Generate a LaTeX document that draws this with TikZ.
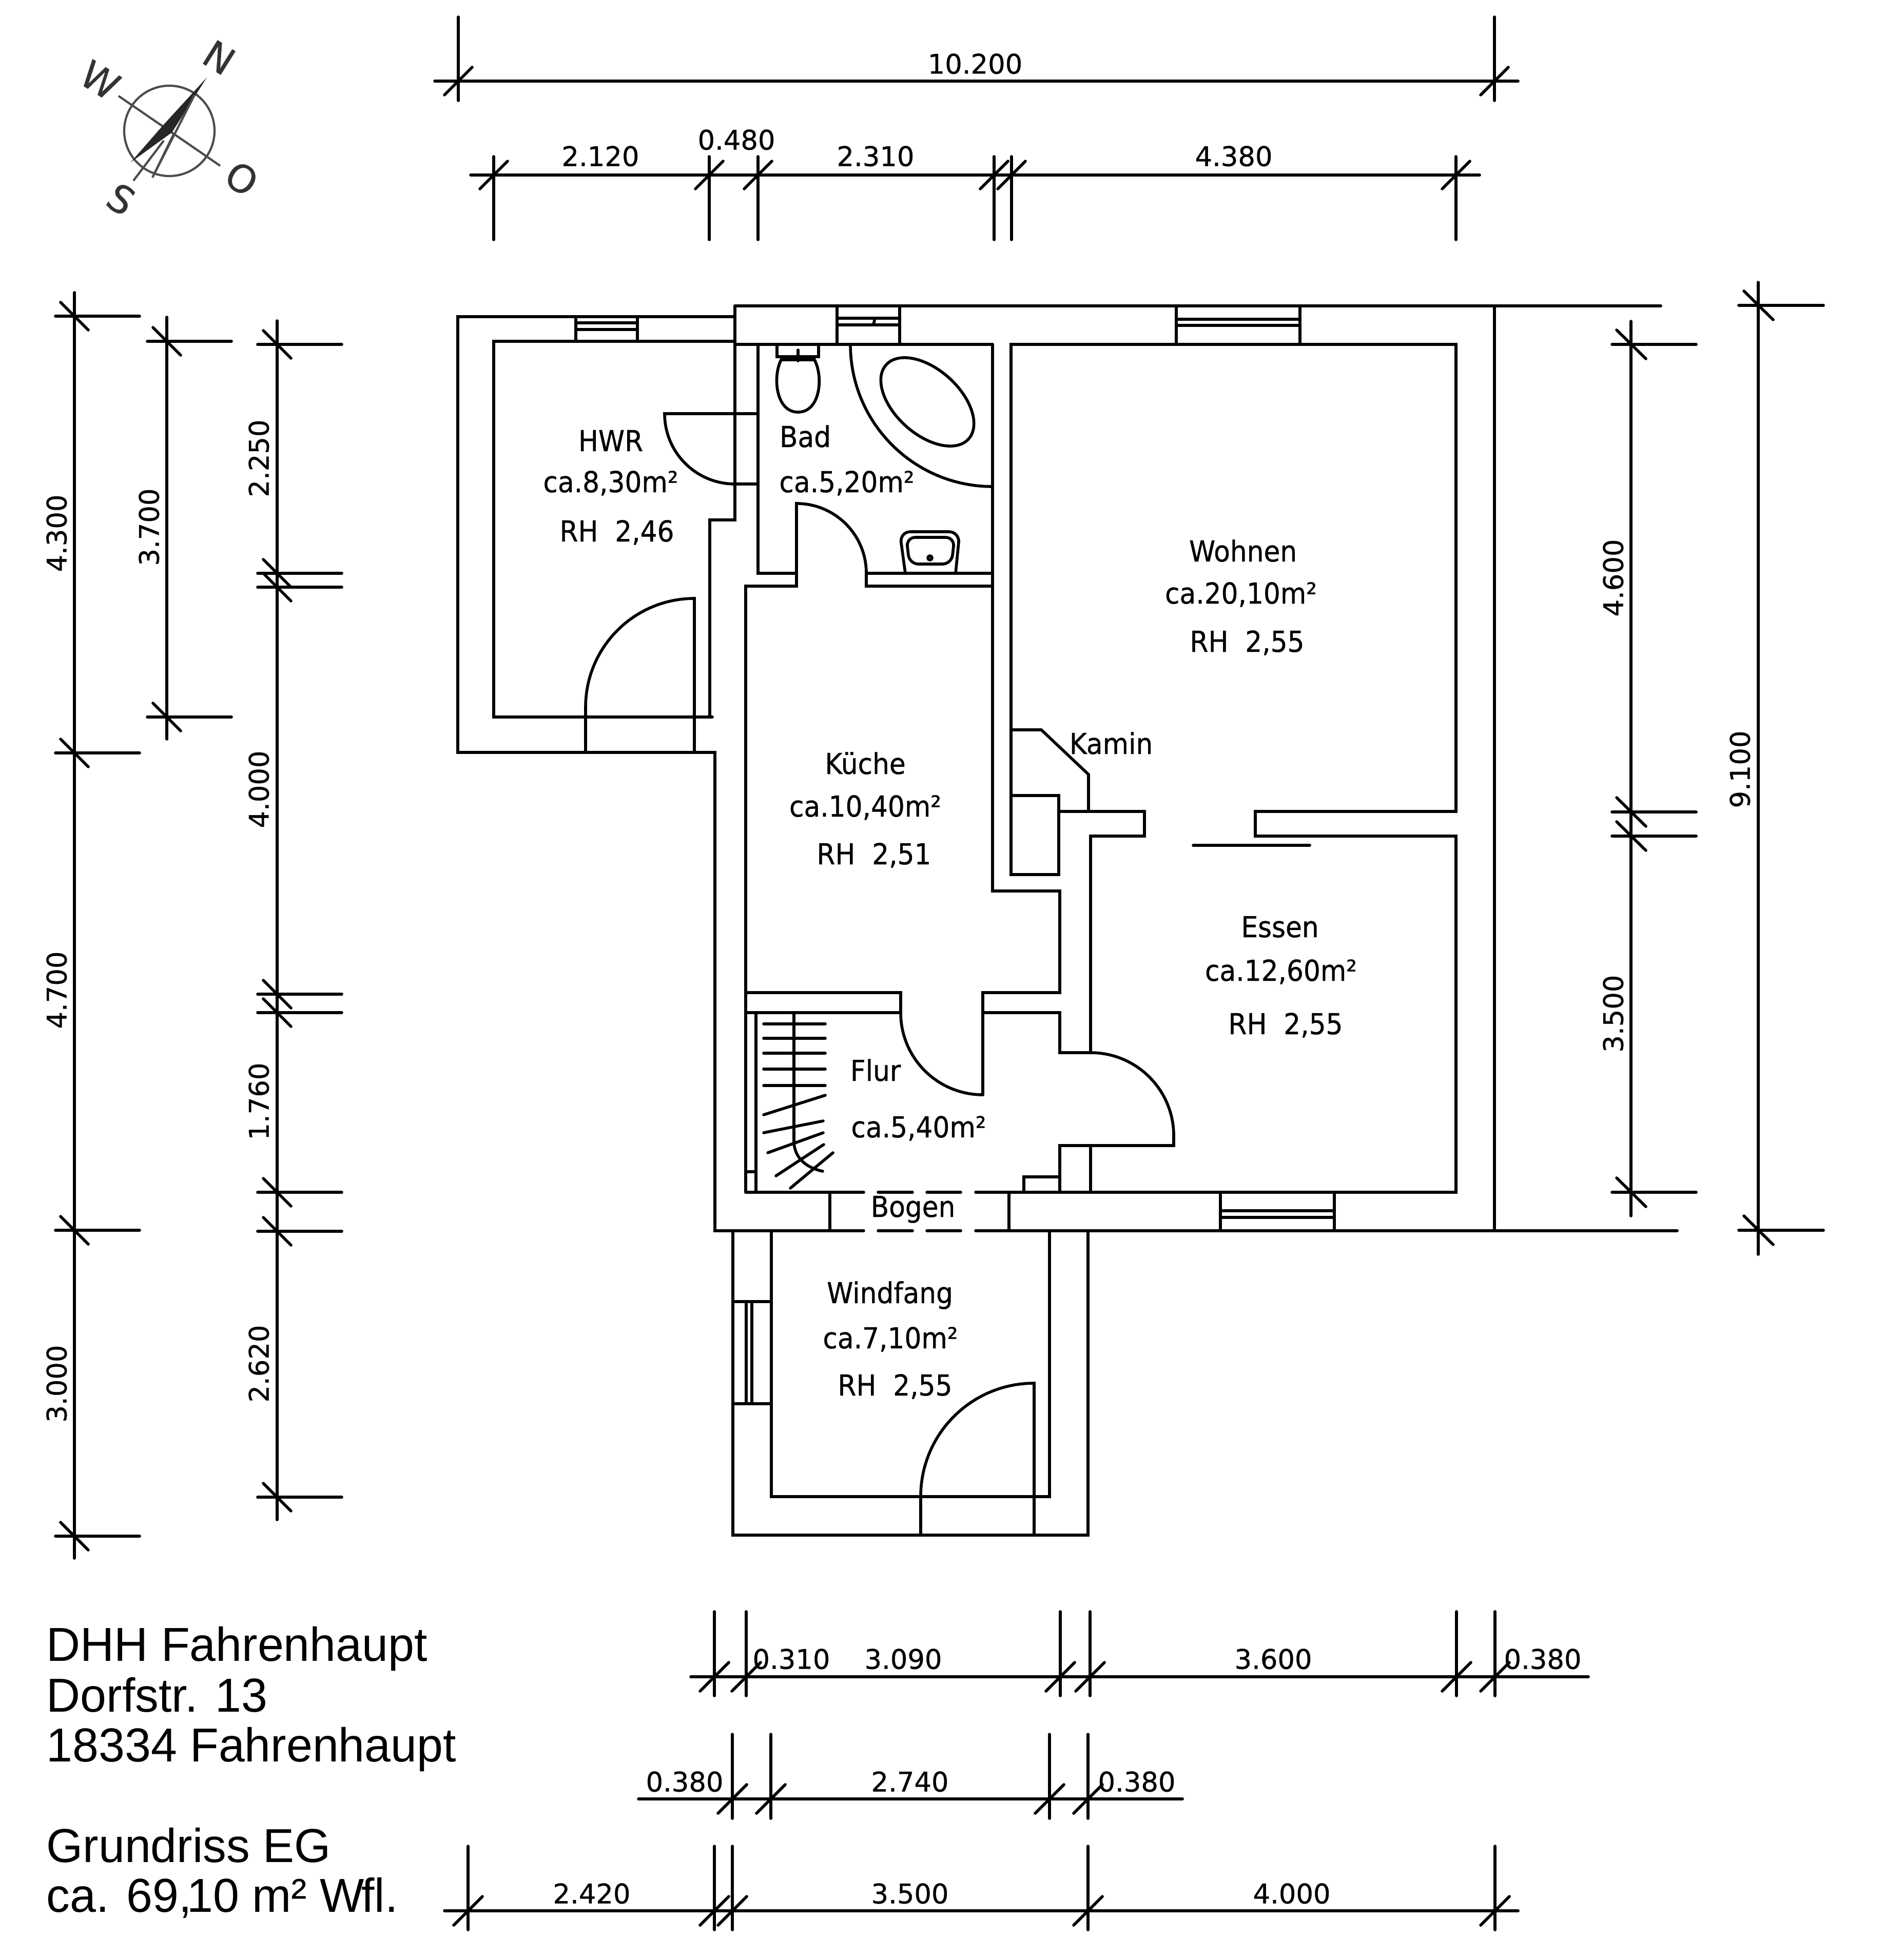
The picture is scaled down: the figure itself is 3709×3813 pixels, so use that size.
\documentclass[tikz,border=0pt]{standalone}
\usepackage{fontspec}
\setmainfont[FakeStretch=0.985]{Liberation Sans}
\newfontfamily\cadfont[FakeStretch=0.92, FakeBold=0.6]{DejaVu Sans}
\newfontfamily\dimfont[FakeBold=0.6]{DejaVu Sans}
\tikzset{
plan/.style={line width=1.6pt, line cap=round, line join=miter},
dimline/.style={line width=1.6pt, line cap=round},
compass/.style={line width=1.2pt, draw=black!70},
roomtext/.style={inner sep=0pt, text height=0.42cm, text depth=0pt, font=\cadfont\fontsize{16}{18}\selectfont},
dimtext/.style={inner sep=0pt, text height=0.39cm, text depth=0pt, font=\dimfont\fontsize{15}{18}\selectfont},
compasstext/.style={inner sep=0pt, rotate=-32, text=black!80, font=\dimfont\fontsize{21}{24}\selectfont},
titletext/.style={inner sep=0pt, anchor=base west, font=\fontsize{26.4}{30}\selectfont},
}
\begin{document}
\begin{tikzpicture}[x=0.01cm, y=0.01cm, yscale=-1]
\useasboundingbox (0,0) rectangle (3709,3813);

% compass
\draw[compass] (330,255) circle [radius=88];
\draw[compass] (231,187) -- (429,323);
\fill[black!85] (403,151) -- (335,258) -- (255,316) -- (316,246) -- cycle;
\draw[compass] (379,185) -- (297,346) (338,262) -- (300,340) (319,274) -- (260,352);
\node[compasstext] (north) at (427,112) {N};
\node[compasstext] (west) at (195,156) {W};
\node[compasstext] (east) at (471,348) {O};
\node[compasstext] (south) at (236,388) {S};

% outer walls
\draw[plan] (1432,596) -- (3236,596);
\draw[plan] (1432,617) -- (892,617) -- (892,1466) -- (1393,1466) -- (1393,2398) -- (1683,2398);
\draw[plan] (1901,2398) -- (3268,2398);
\draw[plan] (2912,596) -- (2912,2398);
\foreach \y in {2323,2398} {
    \draw[plan] (1711,\y) -- (1778,\y);
    \draw[plan] (1806,\y) -- (1872,\y);
}
\draw[plan] (1617,2323) -- (1617,2398);
\draw[plan] (1966,2323) -- (1966,2398);

% HWR
\draw[plan] (1432,596) -- (1432,1013) -- (1383,1013) -- (1383,1397);
\draw[plan] (1432,665) -- (962,665) -- (962,1397) -- (1388,1397);
\draw[plan] (1122,617) -- (1122,665);
\draw[plan] (1242,617) -- (1242,665);
\draw[plan] (1122,629) -- (1242,629);
\draw[plan] (1122,642) -- (1242,642);
\draw[plan] (1141,1466) -- (1141,1378) arc[start angle=180, end angle=270, radius=212] -- (1353,1466);
\draw[plan] (1477,806) -- (1295,806) arc[start angle=180, end angle=90, radius=137] -- (1477,943);

% Bad
\draw[plan] (1432,671) -- (1934,671);
\draw[plan] (1477,671) -- (1477,1117) -- (1552,1117);
\draw[plan] (1453,2323) -- (1453,1142) -- (1552,1142) -- (1552,981) arc[start angle=270, end angle=360, radius=136] -- (1688,1142) -- (1934,1142);
\draw[plan] (1688,1117) -- (1934,1117);
\draw[plan] (1631,596) -- (1631,671);
\draw[plan] (1753,596) -- (1753,671);
\draw[plan] (1631,620) -- (1753,620);
\draw[plan] (1631,633) -- (1753,633);
\draw[plan] (1702,632) -- (1704,624);
\draw[plan] (1514,671) -- (1514,695) -- (1595,695) -- (1595,671);
\draw[plan] (1555,682) -- (1555,703);
\draw[plan] (1522,701) .. controls (1505,735) and (1512,803) .. (1555,803) .. controls (1598,803) and (1605,735) .. (1587,701) -- cycle;
\draw[plan] (1657,671) arc[start angle=180, end angle=90, radius=277];
\draw[plan, rotate around={42:(1807,783)}] (1807,783) ellipse [x radius=108, y radius=63];
\draw[plan, rounded corners=6] (1764,1117) -- (1753,1036) -- (1870,1036) -- (1862,1117);
\draw[plan, rounded corners=5] (1772,1099) -- (1766,1047) -- (1860,1047) -- (1854,1099) -- cycle;
\draw[plan] (1812,1087) circle [radius=4];

% Kueche and Flur walls
\draw[plan] (1934,671) -- (1934,1736) -- (2065,1736) -- (2065,1934) -- (1915,1934) -- (1915,2133);
\draw[plan] (1453,1934) -- (1755,1934) -- (1755,1973) -- (1453,1973);
\draw[plan] (1755,1973) arc[start angle=180, end angle=90, radius=160];
\draw[plan] (1915,1973) -- (2065,1973) -- (2065,2051) -- (2125,2051) -- (2125,1629) -- (2230,1629) -- (2230,1581) -- (2063,1581);
\draw[plan] (2125,2051) arc[start angle=270, end angle=360, radius=162] -- (2287,2232) -- (2065,2232) -- (2065,2323);
\draw[plan] (2125,2232) -- (2125,2323);
\draw[plan] (1995,2323) -- (1995,2293) -- (2065,2293);
\draw[plan] (1453,2323) -- (1683,2323);

% Wohnen and Essen
\draw[plan] (1970,1550) -- (2063,1550) -- (2063,1704) -- (1970,1704) -- (1970,671) -- (2837,671) -- (2837,1581) -- (2446,1581) -- (2446,1629) -- (2837,1629) -- (2837,2323) -- (1901,2323);
\draw[plan] (1970,1422) -- (2029,1422) -- (2121,1509) -- (2121,1581);
\draw[plan] (2325,1647) -- (2552,1647);
\draw[plan] (2292,596) -- (2292,671);
\draw[plan] (2533,596) -- (2533,671);
\draw[plan] (2292,622) -- (2533,622);
\draw[plan] (2292,634) -- (2533,634);
\draw[plan] (2378,2323) -- (2378,2398);
\draw[plan] (2600,2323) -- (2600,2398);
\draw[plan] (2378,2359) -- (2600,2359);
\draw[plan] (2378,2372) -- (2600,2372);

% stairs
\draw[plan] (1473,1973) -- (1473,2323);
\draw[plan] (1454,2283) -- (1473,2283);
\foreach \y in {1995,2023,2052,2083,2115} {
    \draw[plan] (1488,\y) -- (1608,\y);
}
\draw[plan] (1488,2172) -- (1608,2134);
\draw[plan] (1488,2207) -- (1604,2184);
\draw[plan] (1496,2246) -- (1604,2207);
\draw[plan] (1512,2291) -- (1605,2230);
\draw[plan] (1540,2315) -- (1623,2246);
\draw[plan] (1547,1973) -- (1547,2223) .. controls (1547,2255) and (1570,2275) .. (1603,2282);

% Windfang
\draw[plan] (1428,2398) -- (1428,2991) -- (2120,2991) -- (2120,2398);
\draw[plan] (1503,2398) -- (1503,2916) -- (2045,2916) -- (2045,2398);
\draw[plan] (1428,2536) -- (1503,2536);
\draw[plan] (1428,2735) -- (1503,2735);
\draw[plan] (1454,2536) -- (1454,2735);
\draw[plan] (1465,2536) -- (1465,2735);
\draw[plan] (1794,2991) -- (1794,2916) arc[start angle=180, end angle=270, radius=221] -- (2015,2991);

% room labels
\node[roomtext] (hwrname) at (1190,858) {HWR};
\node[roomtext] (hwrarea) at (1190,938) {ca.8,30m²};
\node[roomtext] (hwrheight) at (1202,1034) {RH\ \ 2,46};
\node[roomtext] (badname) at (1569,850) {Bad};
\node[roomtext] (badarea) at (1650,938) {ca.5,20m²};
\node[roomtext] (kuechename) at (1686,1487) {Küche};
\node[roomtext] (kuechearea) at (1686,1570) {ca.10,40m²};
\node[roomtext] (kuecheheight) at (1703,1663) {RH\ \ 2,51};
\node[roomtext] (wohnenname) at (2422,1073) {Wohnen};
\node[roomtext] (wohnenarea) at (2418,1155) {ca.20,10m²};
\node[roomtext] (wohnenheight) at (2430,1249) {RH\ \ 2,55};
\node[roomtext] (kamin) at (2165,1448) {Kamin};
\node[roomtext] (essenname) at (2494,1805) {Essen};
\node[roomtext] (essenarea) at (2496,1890) {ca.12,60m²};
\node[roomtext] (essenheight) at (2505,1994) {RH\ \ 2,55};
\node[roomtext] (flurname) at (1706,2085) {Flur};
\node[roomtext] (flurarea) at (1790,2195) {ca.5,40m²};
\node[roomtext] (bogen) at (1779,2350) {Bogen};
\node[roomtext] (windfangname) at (1734,2518) {Windfang};
\node[roomtext] (windfangarea) at (1735,2606) {ca.7,10m²};
\node[roomtext] (windfangheight) at (1744,2698) {RH\ \ 2,55};

% dimensions on top
\draw[dimline] (847,158) -- (2958,158);
\foreach \x in {893,2912} {
    \draw[dimline] (\x,33) -- (\x,196);
    \draw[dimline] (\x-27,185) -- (\x+27,131);
}
\node[dimtext] (dimtotal) at (1900,124) {10.200};
\draw[dimline] (917,341) -- (2883,341);
\foreach \x in {962,1382,1477,1937,1971,2837} {
    \draw[dimline] (\x,305) -- (\x,467);
    \draw[dimline] (\x-27,368) -- (\x+27,314);
}
\node[dimtext] (dimhwr) at (1170,304) {2.120};
\node[dimtext] (dimwall) at (1435,272) {0.480};
\node[dimtext] (dimbad) at (1706,304) {2.310};
\node[dimtext] (dimwohnen) at (2404,304) {4.380};

% dimensions on the left
\draw[dimline] (145,570) -- (145,3036);
\foreach \y in {616,1467,2397,2993} {
    \draw[dimline] (108,\y) -- (272,\y);
    \draw[dimline] (118,\y-27) -- (172,\y+27);
}
\node[dimtext, rotate=90] (dimleftone) at (110,1039) {4.300};
\node[dimtext, rotate=90] (dimlefttwo) at (110,1929) {4.700};
\node[dimtext, rotate=90] (dimleftthree) at (110,2696) {3.000};
\draw[dimline] (325,618) -- (325,1440);
\foreach \y in {665,1397} {
    \draw[dimline] (287,\y) -- (451,\y);
    \draw[dimline] (298,\y-27) -- (352,\y+27);
}
\node[dimtext, rotate=90] (dimhwrdepth) at (290,1027) {3.700};
\draw[dimline] (540,625) -- (540,2961);
\foreach \y in {671,1117,1144,1937,1973,2323,2399,2917} {
    \draw[dimline] (502,\y) -- (666,\y);
    \draw[dimline] (513,\y-27) -- (567,\y+27);
}
\node[dimtext, rotate=90] (dimbaddepth) at (504,893) {2.250};
\node[dimtext, rotate=90] (dimkueche) at (504,1538) {4.000};
\node[dimtext, rotate=90] (dimflur) at (504,2146) {1.760};
\node[dimtext, rotate=90] (dimwindfang) at (504,2657) {2.620};

% dimensions on the right
\draw[dimline] (3178,626) -- (3178,2369);
\foreach \y in {671,1582,1629,2323} {
    \draw[dimline] (3141,\y) -- (3305,\y);
    \draw[dimline] (3150,\y-28) -- (3207,\y+28);
}
\node[dimtext, rotate=90] (dimwohnendepth) at (3143,1126) {4.600};
\node[dimtext, rotate=90] (dimessen) at (3143,1975) {3.500};
\draw[dimline] (3426,550) -- (3426,2444);
\foreach \y in {595,2397} {
    \draw[dimline] (3388,\y) -- (3553,\y);
    \draw[dimline] (3398,\y-28) -- (3455,\y+28);
}
\node[dimtext, rotate=90] (dimdepth) at (3390,1499) {9.100};

% dimensions below
\draw[dimline] (1346,3267) -- (3095,3267);
\foreach \x in {1392,1454,2066,2124,2838,2913} {
    \draw[dimline] (\x,3140) -- (\x,3304);
    \draw[dimline] (\x-28,3295) -- (\x+28,3239);
}
\node[dimtext] (dimone) at (1542,3232) {0.310};
\node[dimtext] (dimtwo) at (1760,3232) {3.090};
\node[dimtext] (dimthree) at (2481,3232) {3.600};
\node[dimtext] (dimfour) at (3006,3232) {0.380};
\draw[dimline] (1244,3505) -- (2304,3505);
\foreach \x in {1427,1502,2045,2120} {
    \draw[dimline] (\x,3379) -- (\x,3543);
    \draw[dimline] (\x-28,3533) -- (\x+28,3477);
}
\node[dimtext] (dimfive) at (1334,3471) {0.380};
\node[dimtext] (dimsix) at (1773,3471) {2.740};
\node[dimtext] (dimseven) at (2215,3471) {0.380};
\draw[dimline] (866,3723) -- (2958,3723);
\foreach \x in {912,1392,1427,2120,2913} {
    \draw[dimline] (\x,3597) -- (\x,3760);
    \draw[dimline] (\x-28,3751) -- (\x+28,3695);
}
\node[dimtext] (dimeight) at (1153,3689) {2.420};
\node[dimtext] (dimnine) at (1773,3689) {3.500};
\node[dimtext] (dimten) at (2517,3689) {4.000};

% title
\node[titletext] (titleone) at (90,3236) {DHH Fahrenhaupt};
\node[titletext] (titletwo) at (90,3335) {Dorfstr. 13};
\node[titletext] (titlethree) at (90,3432) {18334 Fahrenhaupt};
\node[titletext] (titlefour) at (90,3628) {Grundriss EG};
\node[titletext] (titlefive) at (90,3725) {ca. 69,\kern-.1em 10 m² W\kern-.06em fl.};
\end{tikzpicture}
\end{document}
